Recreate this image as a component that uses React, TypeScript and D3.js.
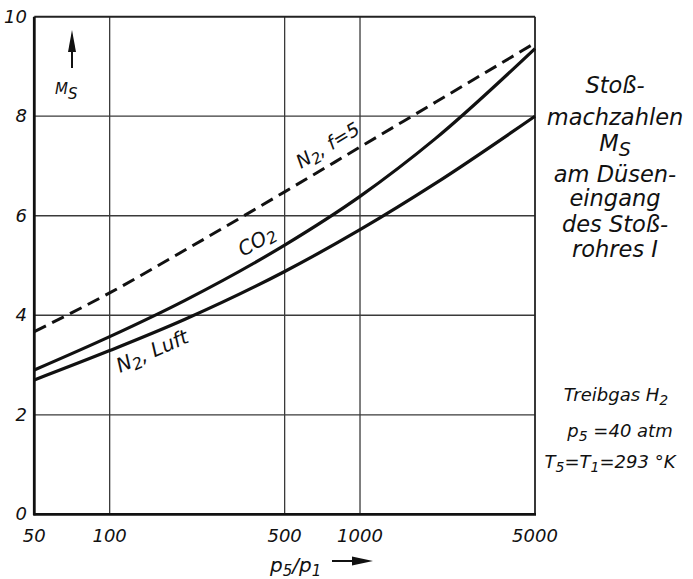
import React from "react";
import * as d3 from "d3";

// p5/p1 sample points
const pressureRatios = [50, 100, 200, 500, 1000, 2000, 5000];
const n2f5 = [3.67, 4.45, 5.31, 6.48, 7.38, 8.28, 9.47];
const co2 = [2.9, 3.57, 4.3, 5.41, 6.39, 7.55, 9.36];
const n2Luft = [2.7, 3.29, 3.92, 4.88, 5.72, 6.65, 8.0];

const xTicks = [50, 100, 500, 1000, 5000];
const yTicks = [0, 2, 4, 6, 8, 10];

const sideTitle = ["Stoß-", "machzahlen", "MS", "am Düsen-", "eingang", "des Stoß-", "rohres I"];

const W = 693;
const H = 579;
const FONT = "'DejaVu Sans', 'Liberation Sans', sans-serif";

export default function App() {
  const margin = { top: 16.7, right: W - 535, bottom: H - 514.3, left: 34.3 };
  const x = d3.scaleLog().domain([50, 5000]).range([margin.left, W - margin.right]);
  const y = d3.scaleLinear().domain([0, 10]).range([H - margin.bottom, margin.top]);

  const line = d3
    .line<[number, number]>()
    .x((d) => x(d[0]))
    .y((d) => y(d[1]))
    .curve(d3.curveMonotoneX);

  const pts = (vals: number[]) => pressureRatios.map((p, i) => [p, vals[i]] as [number, number]);

  const x0 = x(50);
  const x1 = x(5000);
  const y0 = y(0);
  const y1 = y(10);

  const txt = {
    fontFamily: FONT,
    fontStyle: "oblique" as const,
    fill: "#111",
  };

  const sideY = [93, 125, 151, 182, 206, 232, 257];

  return (
    <svg
      width={W}
      height={H}
      style={{ position: "absolute", left: 0, top: 0, background: "#fff" }}
    >
      {/* grid */}
      {[100, 500, 1000].map((v) => (
        <line key={"gx" + v} x1={x(v)} x2={x(v)} y1={y1} y2={y0} stroke="#3a3a3a" strokeWidth={1.3} />
      ))}
      {[2, 4, 6, 8].map((v) => (
        <line key={"gy" + v} x1={x0} x2={x1} y1={y(v)} y2={y(v)} stroke="#3a3a3a" strokeWidth={1.3} />
      ))}
      {/* frame */}
      <line x1={x0} x2={x1} y1={y1} y2={y1} stroke="#222" strokeWidth={2} />
      <line x1={x1} x2={x1} y1={y1} y2={y0} stroke="#222" strokeWidth={1.8} />
      <line x1={x0} x2={x0} y1={y1} y2={y0 + 1} stroke="#111" strokeWidth={2.8} />
      <line x1={x0 - 1} x2={x1 + 1} y1={y0} y2={y0} stroke="#111" strokeWidth={2.8} />

      {/* curves */}
      <path d={line(pts(n2f5)) || ""} fill="none" stroke="#111" strokeWidth={3} strokeDasharray="13 7" />
      <path d={line(pts(co2)) || ""} fill="none" stroke="#111" strokeWidth={3.2} />
      <path d={line(pts(n2Luft)) || ""} fill="none" stroke="#111" strokeWidth={3.2} />

      {/* y tick labels */}
      {yTicks.map((v) => (
        <text key={"yt" + v} x={27} y={y(v) + 6} textAnchor="end" fontSize={18} {...txt}>
          {v}
        </text>
      ))}
      {/* x tick labels */}
      {xTicks.map((v) => (
        <text key={"xt" + v} x={x(v)} y={542} textAnchor="middle" fontSize={18} {...txt}>
          {v}
        </text>
      ))}

      {/* curve labels */}
      <text transform="translate(301,169) rotate(-31)" fontSize={19} {...txt}>
        N<tspan fontSize={15} dy={4}>2</tspan>
        <tspan dy={-4}>, f=5</tspan>
      </text>
      <text transform="translate(243,257) rotate(-30)" fontSize={20} {...txt}>
        CO<tspan fontSize={16} dy={3}>2</tspan>
      </text>
      <text transform="translate(120,373) rotate(-24)" fontSize={20} {...txt}>
        N<tspan fontSize={16} dy={4}>2</tspan>
        <tspan dy={-4}>, Luft</tspan>
      </text>

      {/* Ms with arrow */}
      <line x1={72} x2={72} y1={48} y2={68} stroke="#111" strokeWidth={2} />
      <path d="M72,30 L68,52 L76,52 Z" fill="#111" />
      <text x={55} y={94} fontSize={15} {...txt}>
        M<tspan fontSize={15} dy={5}>S</tspan>
      </text>

      {/* x axis title with arrow */}
      <text x={270} y={572} fontSize={20} {...txt}>
        p<tspan fontSize={15} dy={4}>5</tspan>
        <tspan dy={-4}>/p</tspan>
        <tspan fontSize={15} dy={4}>1</tspan>
      </text>
      <line x1={332} x2={356} y1={561} y2={561} stroke="#111" strokeWidth={2} />
      <path d="M373,561 L352,556.5 L352,565.5 Z" fill="#111" />

      {/* side title */}
      {sideTitle.map((s, i) => (
        <text key={"st" + i} x={615} y={sideY[i]} textAnchor="middle" fontSize={22.5} {...txt}>
          {s === "MS" ? (
            <>
              M<tspan fontSize={19} dy={5}>S</tspan>
            </>
          ) : (
            s
          )}
        </text>
      ))}

      {/* conditions */}
      <text x={616} y={401} textAnchor="middle" fontSize={18} {...txt}>
        Treibgas H<tspan fontSize={14} dy={4}>2</tspan>
      </text>
      <text x={620} y={437} textAnchor="middle" fontSize={18} {...txt}>
        p<tspan fontSize={14} dy={4}>5</tspan>
        <tspan dy={-4}> =40 atm</tspan>
      </text>
      <text x={610} y={468} textAnchor="middle" fontSize={18} {...txt}>
        T<tspan fontSize={14} dy={4}>5</tspan>
        <tspan dy={-4}>=T</tspan>
        <tspan fontSize={14} dy={4}>1</tspan>
        <tspan dy={-4}>=293 °K</tspan>
      </text>
    </svg>
  );
}
